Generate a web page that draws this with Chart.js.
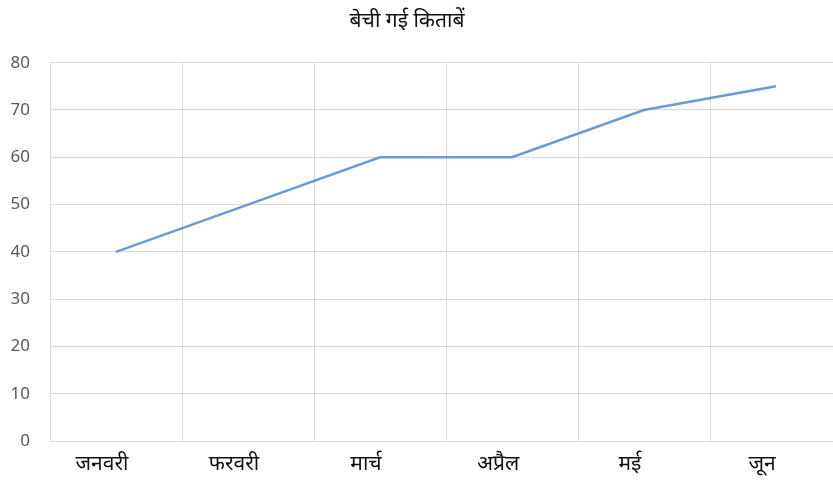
<!DOCTYPE html>
<html><head><meta charset="utf-8">
<script src="https://cdn.jsdelivr.net/npm/chart.js@4/dist/chart.umd.min.js"></script>
<style>
html,body{margin:0;padding:0;overflow:hidden;background:#fff;width:833px;height:481px;}
#wrap{width:860px;height:481px;position:relative;}
</style></head>
<body>
<div id="wrap"><canvas id="c" width="860" height="481"></canvas></div>
<script>
const categories = ['जनवरी','फरवरी','मार्च','अप्रैल','मई','जून'];
const booksSold = [40, 50, 60, 60, 70, 75];
const yTicks = [0,10,20,30,40,50,60,70,80];
const chartTitle = 'बेची गई किताबें';

const grid = '#d9d9d9';
new Chart(document.getElementById('c'), {
  type: 'line',
  data: { labels: categories, datasets: [{
    data: booksSold, borderColor: '#6a9bd6', borderWidth: 2.5,
    pointRadius: 0, tension: 0, fill: false
  }]},
  options: {
    responsive: false, animation: false, devicePixelRatio: 1,
    layout: { padding: { left: -28, right: 18, top: 8, bottom: 0 } },
    plugins: {
      legend: { display: false }, tooltip: { enabled: false },
      title: { display: true, text: chartTitle, color: '#111',
        font: { family: 'Noto Sans, sans-serif', size: 21, weight: 'normal', lineHeight: 1.2 },
        padding: { top: 0, bottom: 29.5 } }
    },
    scales: {
      x: { offset: true,
        grid: { offset: true, color: grid, lineWidth: 1, drawTicks: false },
        border: { color: grid, width: 1 },
        ticks: { color: '#111', padding: 10, labelOffset: -14, maxRotation: 0, autoSkip: false,
          font: { family: 'Noto Sans, sans-serif', size: 21 } },
        afterFit: s => { s.height = 40; }
      },
      y: { min: 0, max: 80,
        afterBuildTicks: s => { s.ticks = yTicks.map(v => ({ value: v })); },
        grid: { color: grid, lineWidth: 1, drawTicks: false },
        border: { color: grid, width: 1 },
        ticks: { color: '#595959', padding: 20,
          font: { family: 'Noto Sans, sans-serif', size: 17 } },
        afterFit: s => { s.width = 78; }
      }
    }
  }
});
</script>
</body></html>
